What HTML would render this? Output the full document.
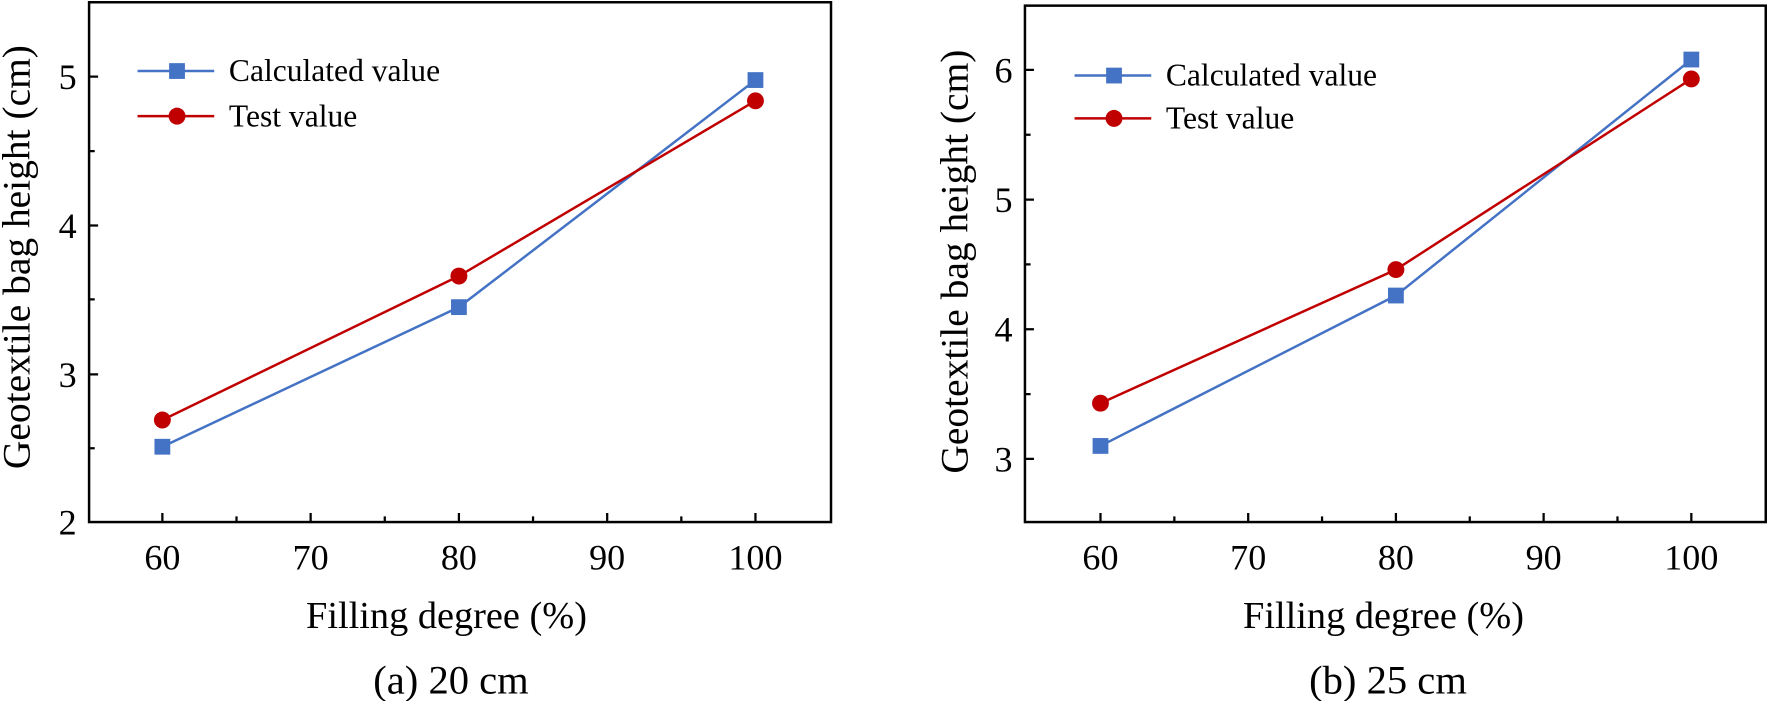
<!DOCTYPE html>
<html><head><style>body{margin:0;background:#fff}svg{display:block}svg text{font-family:"Liberation Serif","Times New Roman","DejaVu Serif",serif;fill:#000}</style></head>
<body>
<svg width="1768" height="701" viewBox="0 0 1568 621.7" preserveAspectRatio="none">
<g stroke="#000" stroke-width="2.2" fill="none">
<rect x="79" y="2" width="658" height="461"/>
<rect x="909" y="5" width="657" height="458"/>
</g>
<g stroke="#000" stroke-width="2">
<path d="M79 332h8M79 200h8M79 68h8M79 397.5h5M79 265.5h5M79 134h5"/>
<path d="M144 463v-8M275.5 463v-8M407 463v-8M538.5 463v-8M670 463v-8M209.75 463v-5M341.25 463v-5M472.75 463v-5M604.25 463v-5"/>
<path d="M909 407h8M909 292h8M909 177h8M909 62h8M909 349.5h5M909 234.5h5M909 119.5h5"/>
<path d="M976 463v-8M1107 463v-8M1238 463v-8M1369 463v-8M1500 463v-8M1041.5 463v-5M1172.5 463v-5M1303.5 463v-5M1434.5 463v-5"/>
</g>
<g font-size="32">
<g text-anchor="end"><text x="68" y="474">2</text><text x="68" y="343">3</text><text x="68" y="211">4</text><text x="68" y="79">5</text>
<text x="898" y="418">3</text><text x="898" y="303">4</text><text x="898" y="188">5</text><text x="898" y="73">6</text></g>
<g text-anchor="middle"><text x="144" y="505">60</text><text x="275.5" y="505">70</text><text x="407" y="505">80</text><text x="538.5" y="505">90</text><text x="670" y="505">100</text>
<text x="976" y="505">60</text><text x="1107" y="505">70</text><text x="1238" y="505">80</text><text x="1369" y="505">90</text><text x="1500" y="505">100</text></g>
</g>
<g font-size="34" text-anchor="middle">
<text x="396" y="557">Filling degree (%)</text><text x="1227" y="557">Filling degree (%)</text>
</g>
<g font-size="36" text-anchor="middle">
<text x="400" y="615">(a) 20 cm</text><text x="1231" y="615">(b) 25 cm</text>
<text transform="translate(26 228) rotate(-90)" font-size="35">Geotextile bag height (cm)</text>
<text transform="translate(858 232) rotate(-90)" font-size="35">Geotextile bag height (cm)</text>
</g>
<g font-size="28"><text x="203" y="72">Calculated value</text><text x="203" y="112">Test value</text>
<text x="1034" y="76">Calculated value</text><text x="1034" y="114">Test value</text></g>
<g stroke-width="2.2" fill="none">
<path d="M122 63h68M953 67h68" stroke="#4472c4"/>
<path d="M122 103h68M953 105h68" stroke="#c00000"/>
<polyline stroke="#4472c4" points="144,396.2 407,272.4 670,71"/>
<polyline stroke="#c00000" points="144,372.5 407,244.8 670,89.4"/>
<polyline stroke="#4472c4" points="976,395.5 1238,262.1 1500,52.8"/>
<polyline stroke="#c00000" points="976,357.6 1238,239.1 1500,70"/>
</g>
<g fill="#4472c4">
<rect x="150" y="56" width="14" height="14"/><rect x="981" y="60" width="14" height="14"/>
<rect x="137" y="389.2" width="14" height="14"/><rect x="400" y="265.4" width="14" height="14"/><rect x="663" y="64" width="14" height="14"/>
<rect x="969" y="388.5" width="14" height="14"/><rect x="1231" y="255.1" width="14" height="14"/><rect x="1493" y="45.8" width="14" height="14"/>
</g>
<g fill="#c00000">
<circle cx="157" cy="103" r="7.5"/><circle cx="988" cy="105" r="7.5"/>
<circle cx="144" cy="372.5" r="7.5"/><circle cx="407" cy="244.8" r="7.5"/><circle cx="670" cy="89.4" r="7.5"/>
<circle cx="976" cy="357.6" r="7.5"/><circle cx="1238" cy="239.1" r="7.5"/><circle cx="1500" cy="70" r="7.5"/>
</g>
</svg>
</body></html>
